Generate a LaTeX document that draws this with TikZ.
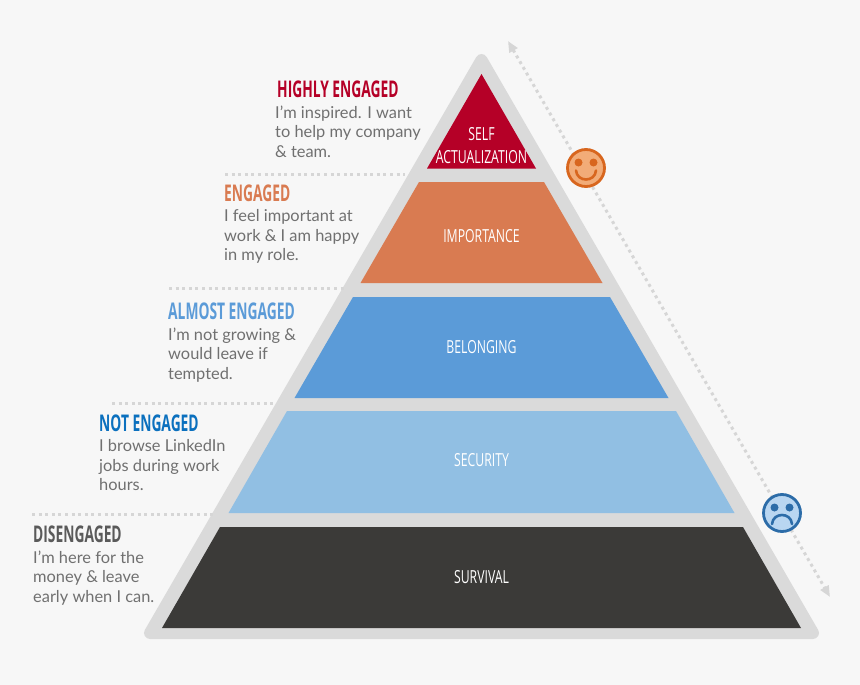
\documentclass[tikz,border=0pt]{standalone}
\usepackage{fontspec}
\usepackage{graphicx}
\setmainfont{Lato}
\newfontfamily\headfont{Open Sans}
\usetikzlibrary{arrows.meta}
\usetikzlibrary{positioning}
\definecolor{paper}{HTML}{F7F7F7}
\definecolor{frame}{HTML}{DADADA}
\definecolor{dots}{HTML}{D6D6D6}
\definecolor{bodygrey}{HTML}{707070}
\definecolor{selfred}{HTML}{B50027}
\definecolor{importance}{HTML}{D97B51}
\definecolor{belonging}{HTML}{5B9BD8}
\definecolor{security}{HTML}{91BFE3}
\definecolor{survival}{HTML}{3B3A38}
\definecolor{notblue}{HTML}{0B70BE}
\definecolor{disgrey}{HTML}{5A5A5A}
\definecolor{happyfill}{HTML}{F2AC78}
\definecolor{happyline}{HTML}{D8661E}
\definecolor{sadfill}{HTML}{B9D6F1}
\definecolor{sadline}{HTML}{2C6CA8}
\newcommand{\headtext}[1]{\scalebox{0.6}[1]{\headfont\fontsize{23}{23}\selectfont\bfseries #1}}
\newcommand{\tiertext}[1]{\scalebox{0.68}[1]{\headfont\fontsize{18}{18}\selectfont #1}}
\tikzset{
  head/.style={anchor=west, inner sep=0pt},
  note/.style={anchor=north west, inner sep=0pt, align=left, text=bodygrey,
    font=\fontsize{16.4}{19.5}\selectfont},
  tier/.style={text=white, inner sep=0pt, align=center},
  rule/.style={draw=dots, line width=3pt, dash pattern=on 3pt off 3.6pt},
  face/.style={circle, minimum size=37pt, inner sep=0pt, line width=2.8pt},
  eye/.style={circle, minimum size=8pt, inner sep=0pt},
}
\begin{document}
\begin{tikzpicture}[x=1pt, y=-1pt]
  \useasboundingbox (0,0) rectangle (860,685);
  \fill[paper] (0,0) rectangle (860,685);

  % pyramid
  \fill[frame, draw=frame, line width=12pt, line join=round]
    (481.5,60) -- (150,633) -- (813,633) -- cycle;
  \fill[selfred] (481.5,74) -- (536,168.5) -- (427,168.5) -- cycle;
  \fill[importance] (419,182) -- (544,182) -- (602.5,283) -- (360.5,283) -- cycle;
  \fill[belonging] (353,297) -- (610,297) -- (668.5,398) -- (294.5,398) -- cycle;
  \fill[security] (287,411) -- (676,411) -- (734.5,513) -- (228.5,513) -- cycle;
  \fill[survival] (220,527) -- (743,527) -- (801,628) -- (162,628) -- cycle;

  \node[tier] (selfa) at (481.5,134) {\tiertext{SELF}};
  \node[tier] (selfb) at (481.5,157) {\tiertext{ACTUALIZATION}};
  \node[tier] (imp) at (481.5,236) {\tiertext{IMPORTANCE}};
  \node[tier] (bel) at (481.5,347) {\tiertext{BELONGING}};
  \node[tier] (sec) at (481.5,460) {\tiertext{SECURITY}};
  \node[tier] (sur) at (481.5,577) {\tiertext{SURVIVAL}};

  % labels on the left
  \node[head, text=selfred] (high) at (277,89) {\headtext{HIGHLY ENGAGED}};
  \node[note, below=8pt of high.south west, anchor=north west, xshift=-2pt] (highnote)
    {I’m inspired. I want\\to help my company\\\& team.};
  \node[head, text=importance] (eng) at (224,193) {\headtext{ENGAGED}};
  \node[note, below=8pt of eng.south west, anchor=north west] (engnote)
    {I feel important at\\work \& I am happy\\in my role.};
  \node[head, text=belonging] (alm) at (168,311) {\headtext{ALMOST ENGAGED}};
  \node[note, below=8pt of alm.south west, anchor=north west] (almnote)
    {I’m not growing \&\\would leave if\\tempted.};
  \node[head, text=notblue] (nen) at (99,423) {\headtext{NOT ENGAGED}};
  \node[note, below=8pt of nen.south west, anchor=north west] (nennote)
    {I browse LinkedIn\\jobs during work\\hours.};
  \node[head, text=disgrey] (dis) at (33,534) {\headtext{DISENGAGED}};
  \node[note, below=8pt of dis.south west, anchor=north west] (disnote)
    {I’m here for the\\money \& leave\\early when I can.};

  % dotted rules
  \coordinate (ra) at (225,174);
  \coordinate (rb) at (405,174);
  \coordinate (rc) at (169,288);
  \coordinate (rd) at (345,288);
  \coordinate (re) at (112,403);
  \coordinate (rf) at (277,403);
  \coordinate (rg) at (32,514);
  \coordinate (rh) at (213,514);
  \draw[rule] (ra) -- (rb);
  \draw[rule] (rc) -- (rd);
  \draw[rule] (re) -- (rf);
  \draw[rule] (rg) -- (rh);

  % scale arrow
  \coordinate (up) at (508,41);
  \coordinate (down) at (830,597);
  \draw[rule, {Triangle[length=11pt,width=9pt]}-{Triangle[length=11pt,width=9pt]}] (up) -- (down);

  % faces
  \node[face, fill=happyfill, draw=happyline] (happy) at (586,168) {};
  \node[eye, fill=happyline] (he) at ([shift={(-7.5,-5.5)}]happy.center) {};
  \node[eye, fill=happyline] (hf) at ([shift={(7.5,-5.5)}]happy.center) {};
  \coordinate (hg) at ([shift={(-10,2.5)}]happy.center);
  \coordinate (hh) at ([shift={(10,2.5)}]happy.center);
  \draw[happyline, line width=2.6pt, line cap=round] (hg) .. controls +(1,12) and +(-1,12) .. (hh);

  \node[face, fill=sadfill, draw=sadline] (sad) at (782,513) {};
  \node[eye, fill=sadline] (se) at ([shift={(-7.5,-5.5)}]sad.center) {};
  \node[eye, fill=sadline] (sf) at ([shift={(7.5,-5.5)}]sad.center) {};
  \coordinate (sg) at ([shift={(-10,11)}]sad.center);
  \coordinate (sh) at ([shift={(10,11)}]sad.center);
  \draw[sadline, line width=2.6pt, line cap=round] (sg) .. controls +(1,-12) and +(-1,-12) .. (sh);
\end{tikzpicture}
\end{document}
